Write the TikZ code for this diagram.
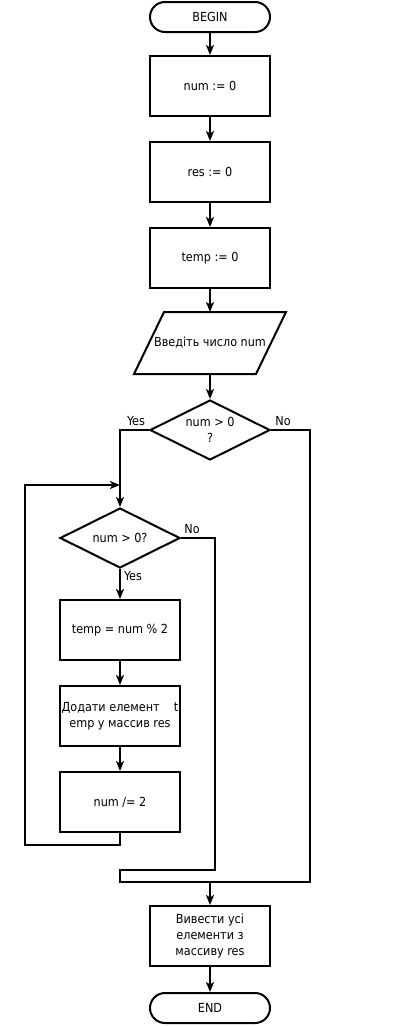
\documentclass[tikz,border=0pt]{standalone}
\usepackage{fontspec}
\setmainfont{DejaVu Sans Condensed}
\usetikzlibrary{shapes.geometric,arrows.meta,calc}
\begin{document}
\begin{tikzpicture}[x=1pt,y=-1pt,
  line width=2pt,
  every node/.style={font=\fontsize{12.5}{16}\selectfont, align=center},
  proc/.style={draw, rectangle, minimum width=120pt, minimum height=60pt, inner sep=0pt},
  term/.style={draw, rectangle, rounded corners=15pt, minimum width=120pt, minimum height=30pt, inner sep=0pt},
  decision/.style={draw, diamond, aspect=2, minimum width=120pt, minimum height=60pt, inner sep=0pt},
  iobox/.style={rectangle, minimum width=120pt, minimum height=60pt, inner sep=0pt},
  flow/.style={-{Stealth[length=10pt,width=8pt,inset=2.5pt]}},
  lbl/.style={inner sep=0pt, font=\fontsize{12.5}{14}\selectfont}
]
\useasboundingbox (0,0) rectangle (420,1026);

% main column
\node[term] (begin) at (210,17) {BEGIN};
\node[proc] (n1) at (210,86) {num := 0};
\node[proc] (n2) at (210,172) {res := 0};
\node[proc] (n3) at (210,258) {temp := 0};
\node[iobox] (inp) at (210,343) {Введіть число num};
\draw ($(inp.north west)+(15,0)$) -- ($(inp.north east)+(15,0)$)
   -- ($(inp.south east)+(-15,0)$) -- ($(inp.south west)+(-15,0)$) -- cycle;
\node[decision] (d1) at (210,430) {num > 0\\?};

% loop body
\node[decision] (d2) at (120,538) {num > 0?};
\node[proc] (t1) at (120,630) {temp = num \% 2};
\node[proc] (t2) at (120,716) {Додати елемент\ \ \ \ t\\emp у массив res};
\node[proc] (t3) at (120,802) {num /= 2};

% output and end
\node[proc] (out) at (210,936) {Вивести усі\\елементи з\\массиву res};
\node[term] (end) at (210,1008) {END};

% helper points
\coordinate (loopin) at (120,485);
\coordinate (loopbot) at (120,845);
\coordinate (loopleft) at (25,845);
\coordinate (merge) at (210,882);

% straight connectors
\draw[flow] (begin) -- (n1);
\draw[flow] (n1) -- (n2);
\draw[flow] (n2) -- (n3);
\draw[flow] (n3) -- (inp);
\draw[flow] (inp) -- (d1);
\draw[flow] (d1.west) -| (d2.north);
\draw[flow] (d2) -- (t1);
\draw[flow] (t1) -- (t2);
\draw[flow] (t2) -- (t3);

% loop back
\draw[flow] (t3.south) -- (loopbot) -- (loopleft) |- (loopin);

% exits
\draw (d1.east) -- (310,430) |- (merge);
\draw (d2.east) -| (215,870) -- (120,870) -- (120,882) -- (merge);
\draw[flow] (merge) -- (out);
\draw[flow] (out) -- (end);

% branch labels
\node[lbl] at (136,421) {Yes};
\node[lbl] at (283,421) {No};
\node[lbl] at (192,529) {No};
\node[lbl, anchor=west] at (123,576) {Yes};
\end{tikzpicture}
\end{document}
